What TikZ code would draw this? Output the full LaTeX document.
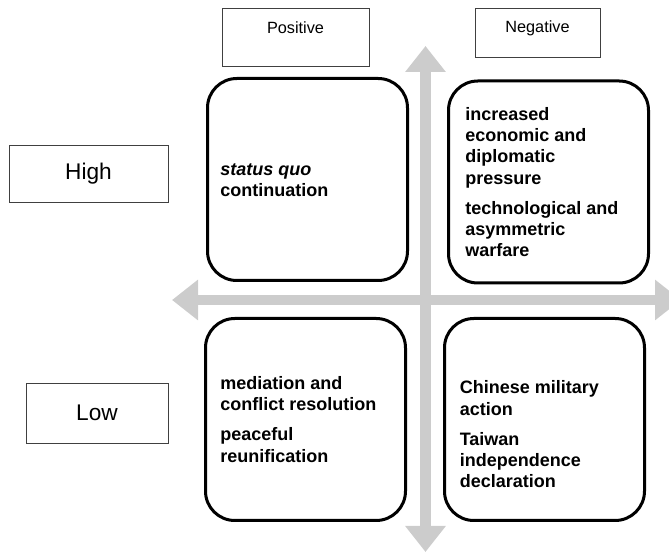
\documentclass[tikz,border=0pt]{standalone}
\usepackage{fontspec}
\setmainfont{Liberation Sans}
\usetikzlibrary{arrows.meta}
\begin{document}
\begin{tikzpicture}[x=0.75pt,y=-0.75pt,
  axis/.style={line width=7.9pt,gray!40,{Triangle[length=19.5pt,width=29.25pt]}-{Triangle[length=19.5pt,width=29.25pt]}},
  tag/.style={draw=black!75,line width=0.6pt,inner sep=0pt},
  cell/.style={draw,line width=2.25pt,rounded corners=22pt,minimum width=150pt,minimum height=151.5pt},
  cell text/.style={font=\fontsize{13.5}{16}\selectfont\bfseries,align=left,anchor=west,inner sep=0pt}]
\useasboundingbox (0,0) rectangle (669,552);
% axes
\coordinate (vtop) at (425.5,46); \coordinate (vbot) at (425.5,552);
\coordinate (hleft) at (172,300); \coordinate (hright) at (681,300);
\draw[axis] (vbot)--(vtop);
\draw[axis] (hleft)--(hright);
% column and row tags
\node[tag,minimum width=110.25pt,minimum height=43.5pt] (pos) at (295.5,37) {};
\node[font=\fontsize{12.2}{14}\selectfont] (postxt) at ([yshift=6.75pt]pos.center) {Positive};
\node[tag,minimum width=93.75pt,minimum height=36.75pt] (neg) at (537.5,32.5) {};
\node[font=\fontsize{12.2}{14}\selectfont] (negtxt) at ([yshift=3.4pt]neg.center) {Negative};
\node[tag,minimum width=119.25pt,minimum height=42.75pt,font=\fontsize{17}{19}\selectfont] (high) at (88.5,173.5) {High};
\node[tag,minimum width=106.5pt,minimum height=45pt,font=\fontsize{17}{19}\selectfont] (low) at (97,413) {Low};
% quadrants
\node[cell] (tl) at (307.5,179.5) {};
\node[cell] (tr) at (548.5,182) {};
\node[cell] (bl) at (305.5,419.5) {};
\node[cell] (br) at (544.5,419.5) {};
\node[cell text] (tltxt) at (220,180) {\textit{status quo}\\continuation};
\node[cell text] (trtxt) at (465,182) {increased\\economic and\\diplomatic\\pressure\\[6.5pt]technological and\\asymmetric\\warfare};
\node[cell text] (bltxt) at (220,419.5) {mediation and\\conflict resolution\\[6.5pt]peaceful\\reunification};
\node[cell text] (brtxt) at (459.5,434.5) {Chinese military\\action\\[6.5pt]Taiwan\\independence\\declaration};
\end{tikzpicture}
\end{document}
